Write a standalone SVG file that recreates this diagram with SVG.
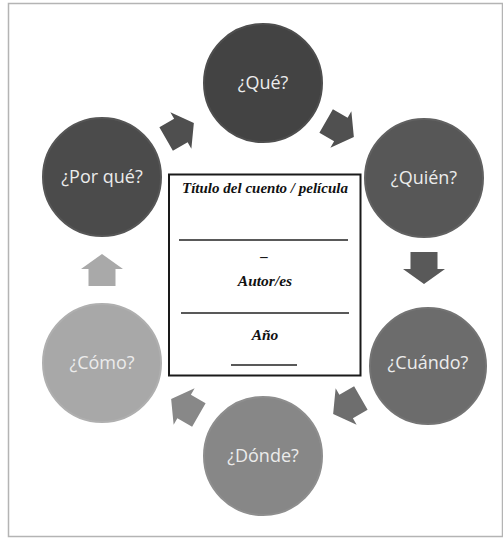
<svg xmlns="http://www.w3.org/2000/svg" width="503" height="538" viewBox="0 0 503 538">
<style>
.lbl{font-family:"Open Sans","Noto Sans",sans-serif;font-size:18px;fill:#ececec;text-anchor:middle}
.box{font-family:"Liberation Serif","DejaVu Serif",serif;font-weight:bold;font-style:italic;fill:#111;text-anchor:middle}
.rule{stroke:#222;stroke-width:1.5}
</style>
<defs>
<path id="arr" d="M-16,-13.5 H1 V-21 L16,0 L1,21 V13.5 H-16 Z"/>
</defs>
<rect x="0" y="0" width="503" height="538" fill="#ffffff"/>
<rect x="8.5" y="3.5" width="494" height="533" fill="none" stroke="#b4b4b4" stroke-width="1.5"/>
<g id="connectors">
<use href="#arr" fill="#4f4f4f" transform="translate(180,131) rotate(-30)"/>
<use href="#arr" fill="#505050" transform="translate(340,129) rotate(30)"/>
<use href="#arr" fill="#595959" transform="translate(424,268) rotate(90)"/>
<use href="#arr" fill="#6e6e6e" transform="translate(347,406) rotate(150)"/>
<use href="#arr" fill="#888888" transform="translate(185,407) rotate(-150)"/>
<use href="#arr" fill="#a9a9a9" transform="translate(102,270) rotate(-90)"/>
</g>
<g id="que">
<circle cx="263" cy="83" r="59" fill="#434343" stroke="#4e4e4e" stroke-width="2"/>
<text class="lbl" x="263" y="89">¿Qué?</text>
</g>
<g id="quien">
<circle cx="424" cy="178" r="59" fill="#575757" stroke="#616161" stroke-width="2"/>
<text class="lbl" x="424" y="184">¿Quién?</text>
</g>
<g id="cuando">
<circle cx="428" cy="366" r="58" fill="#6c6c6c" stroke="#747474" stroke-width="2"/>
<text class="lbl" x="428" y="369">¿Cuándo?</text>
</g>
<g id="donde">
<circle cx="263" cy="456" r="59" fill="#878787" stroke="#8e8e8e" stroke-width="2"/>
<text class="lbl" x="263" y="462">¿Dónde?</text>
</g>
<g id="como">
<circle cx="102" cy="363" r="59" fill="#a8a8a8" stroke="#afafaf" stroke-width="2"/>
<text class="lbl" x="102" y="369">¿Cómo?</text>
</g>
<g id="porque">
<circle cx="102" cy="177" r="59" fill="#4b4b4b" stroke="#565656" stroke-width="2"/>
<text class="lbl" x="102" y="183">¿Por qué?</text>
</g>
<g id="center">
<rect x="169" y="174.5" width="191.5" height="201" fill="#ffffff" stroke="#1a1a1a" stroke-width="2"/>
<text class="box" x="265" y="193" font-size="14.5" textLength="166" lengthAdjust="spacingAndGlyphs">Título del cuento / película</text>
<line class="rule" x1="179" y1="240" x2="348" y2="240"/>
<text class="box" x="264" y="261" font-size="15">–</text>
<text class="box" x="265" y="286" font-size="15.5">Autor/es</text>
<line class="rule" x1="181" y1="313" x2="349" y2="313"/>
<text class="box" x="265" y="340" font-size="15.5">Año</text>
<line class="rule" x1="231" y1="365" x2="297" y2="365"/>
</g>
</svg>
